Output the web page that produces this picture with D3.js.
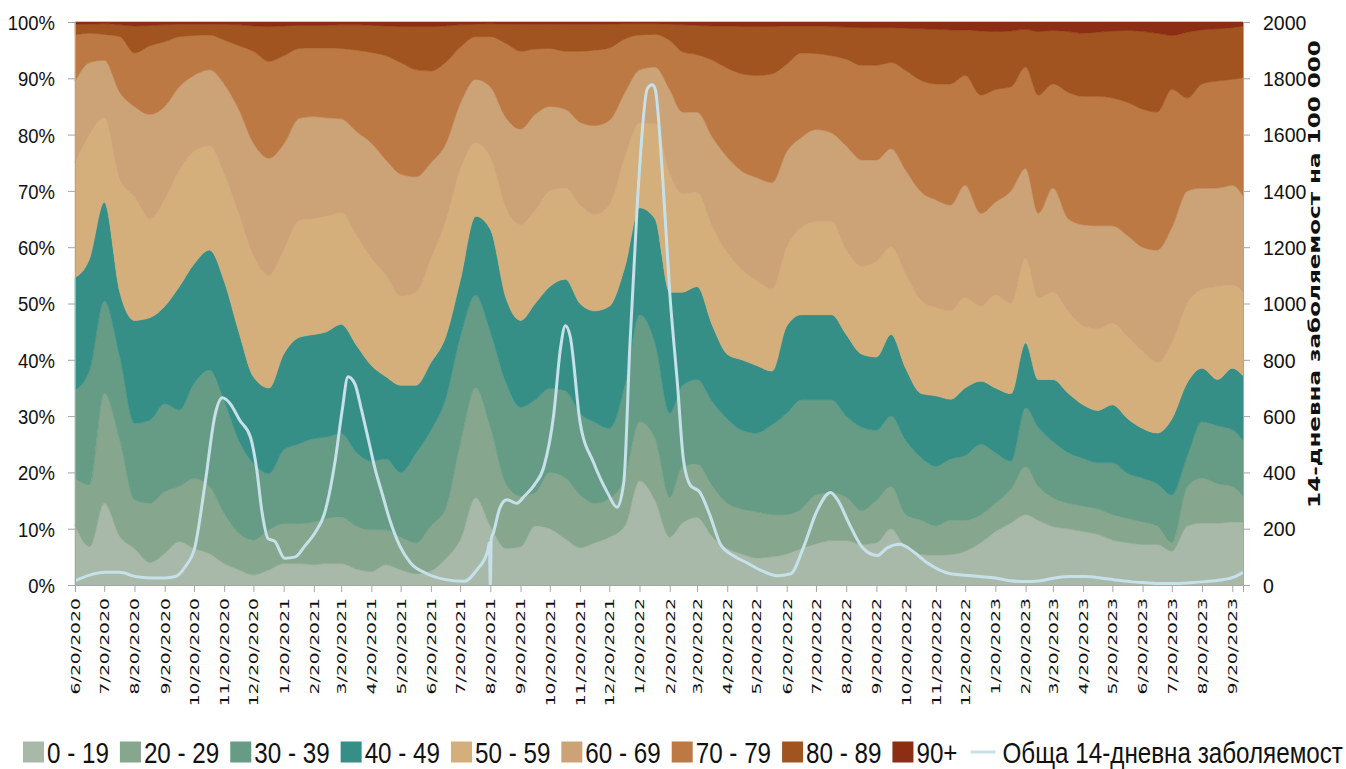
<!DOCTYPE html>
<html>
<head>
<meta charset="utf-8">
<script src="https://cdn.jsdelivr.net/npm/d3@7"></script>
<style>
  body { margin: 0; background: #ffffff; }
  svg { display: block; }
</style>
</head>
<body>
<div id="wrapper"></div>
<script>
// age groups, bottom to top of the stack
const ageGroups = ["0 - 19", "20 - 29", "30 - 39", "40 - 49", "50 - 59",
  "60 - 69", "70 - 79", "80 - 89", "90+"]
const lineLabel = "Обща 14-дневна заболяемост"
const rightTitle = "14-дневна заболяемост на 100 000"

// sample dates for the stacked shares
const sampleDates = [
  "2020-06-20","2020-07-05","2020-07-20","2020-08-05","2020-08-20","2020-09-05","2020-09-20","2020-10-05","2020-10-20","2020-11-05","2020-11-20","2020-12-05","2020-12-20",
  "2021-01-05","2021-01-20","2021-02-05","2021-02-20","2021-03-05","2021-03-20","2021-04-05","2021-04-20","2021-05-05","2021-05-20","2021-06-05","2021-06-20","2021-07-05","2021-07-20","2021-08-05","2021-08-20","2021-09-05","2021-09-20","2021-10-05","2021-10-20","2021-11-05","2021-11-20","2021-12-05","2021-12-20",
  "2022-01-05","2022-01-20","2022-02-05","2022-02-20","2022-03-05","2022-03-20","2022-04-05","2022-04-20","2022-05-05","2022-05-20","2022-06-05","2022-06-20","2022-07-05","2022-07-20","2022-08-05","2022-08-20","2022-09-05","2022-09-20","2022-10-05","2022-10-20","2022-11-05","2022-11-20","2022-12-05","2022-12-20",
  "2023-01-05","2023-01-20","2023-02-05","2023-02-20","2023-03-05","2023-03-20","2023-04-05","2023-04-20","2023-05-05","2023-05-20","2023-06-05","2023-06-20","2023-07-05","2023-07-20","2023-08-05","2023-08-20","2023-09-05","2023-09-20","2023-10-01"
]

// cumulative share (%) up to and including each age group
const upTo19 = [
  10.6, 6.8, 14.5, 8.6, 6.5, 4.0, 5.6, 7.7, 6.5, 5.6, 3.8, 2.7, 1.8,
  2.7, 3.8, 3.8, 3.6, 3.8, 3.8, 2.8, 2.4, 3.6, 2.7, 2.0, 2.5, 4.6, 8.0, 15.5, 10.5, 6.5, 6.8, 10.5, 10.0, 8.2, 6.6, 7.5, 8.5,
  10.5, 18.5, 15.0, 8.5, 11.0, 12.0, 8.5, 6.5, 5.5, 4.8, 5.0, 5.5, 6.5, 7.3, 7.9, 7.9, 7.2, 7.5, 10.0, 6.6, 5.4, 5.3, 5.4, 6.0,
  7.5, 9.5, 11.0, 12.5, 11.5, 10.4, 10.0, 9.5, 9.0, 8.0, 7.5, 7.2, 7.2, 6.0, 10.5, 11.0, 11.0, 11.2, 11.2]
const upTo29 = [
  18.9, 17.8, 34.0, 25.7, 15.1, 14.5, 16.6, 17.5, 18.9, 17.5, 12.7, 9.2, 8.0,
  9.8, 10.9, 10.9, 11.2, 11.8, 12.1, 10.4, 9.8, 9.8, 8.5, 7.5, 10.5, 13.5, 25.0, 35.0, 28.0, 18.0, 15.8, 16.4, 20.0, 19.0, 16.0, 14.5, 15.3,
  19.1, 29.0, 26.0, 15.5, 21.0, 21.5, 17.5, 14.5, 13.5, 13.0, 12.5, 12.5, 13.5, 16.0, 16.4, 15.6, 13.2, 15.0, 17.5, 12.5, 11.5, 10.5, 11.5, 11.5,
  12.5, 14.5, 17.0, 21.0, 17.5, 15.5, 14.5, 14.0, 13.5, 12.5, 11.8, 11.2, 10.5, 7.5, 17.5, 19.0, 18.0, 17.5, 15.8]
const upTo39 = [
  34.6, 38.2, 50.5, 40.5, 28.7, 29.3, 32.2, 31.1, 35.8, 38.2, 32.8, 25.7, 21.6,
  19.8, 24.0, 25.1, 26.0, 26.3, 26.9, 23.5, 22.0, 22.4, 20.0, 23.5, 27.5, 33.0, 44.0, 51.5, 45.0, 36.0, 31.6, 32.9, 34.9, 34.5, 30.5, 28.9, 27.8,
  35.5, 48.0, 43.0, 30.5, 35.5, 36.5, 32.5, 29.5, 27.5, 27.0, 28.5, 30.5, 32.9, 32.9, 32.9, 30.0, 28.0, 27.5, 30.0, 25.7, 22.6, 21.1, 22.4, 23.0,
  25.0, 23.5, 22.0, 31.5, 28.0, 25.5, 23.5, 22.5, 21.7, 21.7, 19.8, 19.0, 18.0, 16.0, 23.0, 29.0, 28.3, 27.6, 25.7]
const upTo49 = [
  54.6, 58.0, 68.0, 52.0, 47.0, 47.5, 49.5, 53.0, 57.0, 59.5, 54.0, 45.0, 37.0,
  35.0, 41.0, 44.0, 44.5, 45.0, 46.3, 42.5, 39.0, 37.0, 35.5, 35.5, 39.5, 44.0, 54.0, 65.5, 63.2, 51.0, 47.0, 50.0, 53.0, 54.3, 50.0, 48.7, 49.5,
  56.5, 67.0, 65.0, 52.0, 52.0, 53.0, 46.0, 41.0, 40.0, 39.0, 38.0, 46.0, 48.0, 48.0, 48.0, 44.5, 41.0, 40.5, 44.5, 38.5, 34.0, 33.6, 33.0, 35.0,
  36.2, 35.0, 34.0, 43.0, 36.5, 36.5, 34.0, 32.0, 31.0, 32.0, 29.5, 27.8, 27.0, 29.5, 36.0, 38.5, 36.5, 38.5, 37.2]
const upTo59 = [
  75.0, 80.0, 83.0, 72.0, 69.0, 65.0, 68.5, 73.7, 77.0, 78.0, 73.0, 66.0, 58.5,
  55.0, 59.5, 64.8, 65.1, 65.5, 66.1, 62.0, 58.0, 55.0, 51.3, 52.0, 58.0, 64.5, 73.7, 78.5, 76.0, 67.0, 64.0, 66.5, 70.0, 70.5, 67.5, 65.8, 67.5,
  76.0, 82.0, 82.0, 73.0, 69.5, 69.7, 63.5, 59.0, 56.0, 54.0, 52.6, 60.0, 63.5, 64.5, 64.5, 59.5, 56.6, 57.5, 60.0, 55.3, 50.5, 49.3, 48.7, 51.0,
  49.5, 51.5, 50.0, 58.0, 51.0, 52.0, 48.5, 46.0, 45.5, 46.5, 44.0, 41.5, 39.5, 43.0, 50.0, 52.5, 53.0, 53.3, 52.0]
const upTo69 = [
  89.5, 92.8, 93.2, 87.5, 85.0, 83.6, 85.0, 88.5, 90.5, 91.5, 89.0, 84.5, 78.5,
  75.8, 78.3, 82.9, 83.2, 83.0, 82.8, 80.5, 78.5, 75.5, 73.0, 72.5, 75.0, 78.3, 85.5, 89.8, 88.5, 83.0, 81.0, 83.6, 85.0, 84.5, 82.2, 81.6, 82.5,
  87.5, 91.5, 92.0, 88.0, 84.0, 84.0, 79.5, 76.0, 73.5, 72.4, 71.5, 77.0, 79.5, 80.9, 80.3, 78.0, 75.5, 75.5, 77.5, 73.7, 69.8, 68.4, 67.5, 71.0,
  66.0, 68.0, 70.0, 74.0, 66.0, 70.5, 65.0, 64.0, 63.8, 63.8, 62.0, 60.0, 59.5, 63.5, 70.0, 70.5, 70.5, 71.0, 69.1]
const upTo79 = [
  97.7, 98.0, 97.8, 97.4, 94.5, 95.8, 96.5, 97.4, 97.6, 97.7, 96.8, 95.8, 94.8,
  93.0, 94.0, 95.3, 95.4, 95.4, 95.3, 95.0, 94.6, 94.0, 92.8, 91.5, 91.3, 92.8, 95.5, 97.4, 97.4, 96.2, 94.8, 95.2, 95.3, 94.8, 94.8, 95.0, 95.4,
  97.0, 97.7, 97.8, 96.7, 94.7, 94.2, 93.2, 91.8, 90.8, 90.5, 90.8, 92.5, 94.5, 94.4, 94.0, 93.4, 92.3, 92.3, 92.8, 91.4, 89.6, 89.0, 89.0, 90.5,
  87.0, 88.0, 88.5, 92.0, 87.0, 89.0, 87.5, 86.8, 86.8, 86.5, 85.7, 84.5, 84.0, 88.0, 86.5, 89.0, 89.5, 89.8, 90.1]
const upTo89 = [
  99.6, 99.6, 99.7, 99.5, 99.3, 99.4, 99.5, 99.6, 99.6, 99.6, 99.6, 99.5, 99.3,
  99.2, 99.3, 99.4, 99.4, 99.4, 99.5, 99.5, 99.4, 99.3, 99.2, 99.2, 99.2, 99.3, 99.5, 99.6, 99.7, 99.6, 99.6, 99.6, 99.6, 99.6, 99.6, 99.6, 99.6,
  99.7, 99.7, 99.7, 99.6, 99.5, 99.4, 99.3, 99.3, 99.2, 99.2, 99.2, 99.3, 99.3, 99.3, 99.2, 99.1, 99.0, 99.0, 99.0, 98.9, 98.8, 98.7, 98.6, 98.6,
  98.4, 98.3, 98.4, 98.7, 98.3, 98.5, 98.3, 98.0, 98.2, 98.4, 98.5, 98.3, 98.0, 97.6, 98.2, 98.6, 98.8, 99.0, 99.3]

// total 14-day incidence per 100 000 (right axis)
const incidenceDates = [
  "2020-06-20","2020-07-05","2020-07-20","2020-08-05","2020-08-21","2020-09-05","2020-09-20","2020-10-01","2020-10-11","2020-10-21","2020-10-31","2020-11-11","2020-11-18","2020-11-26","2020-12-06","2020-12-17","2020-12-23","2020-12-29",
  "2021-01-04","2021-01-11","2021-01-21","2021-02-01","2021-02-11","2021-02-21","2021-03-03","2021-03-14","2021-03-21","2021-03-27","2021-04-03","2021-04-10","2021-04-17","2021-04-24","2021-05-01","2021-05-09","2021-05-19","2021-05-30","2021-06-16","2021-07-04","2021-07-24","2021-08-06","2021-08-17","2021-08-19","2021-08-20","2021-08-21","2021-08-23","2021-08-30","2021-09-06","2021-09-16","2021-09-24","2021-10-04","2021-10-14","2021-10-24","2021-10-31","2021-11-05","2021-11-10","2021-11-20","2021-12-04","2021-12-18","2021-12-28",
  "2022-01-04","2022-01-10","2022-01-18","2022-01-28","2022-02-02","2022-02-05","2022-02-13","2022-02-20","2022-02-28","2022-03-06","2022-03-13","2022-03-23","2022-04-02","2022-04-13","2022-04-26","2022-05-10","2022-05-24","2022-06-10","2022-06-24","2022-07-07","2022-07-21","2022-08-04","2022-08-11","2022-08-24","2022-09-06","2022-09-21","2022-10-01","2022-10-14","2022-10-28","2022-11-11","2022-11-24","2022-12-05","2022-12-19",
  "2023-01-04","2023-01-20","2023-02-04","2023-02-20","2023-03-07","2023-03-22","2023-04-07","2023-04-22","2023-05-08","2023-05-23","2023-06-07","2023-06-23","2023-07-08","2023-07-23","2023-08-08","2023-08-23","2023-09-08","2023-09-23","2023-10-01"
]
const incidence = [
  15, 35, 45, 45, 30, 25, 25, 30, 65, 135, 350, 610, 665, 645, 585, 525, 420, 255,
  165, 155, 95, 100, 140, 185, 255, 445, 620, 740, 715, 620, 515, 410, 325, 230, 140, 79, 40, 20, 13, 53, 118, 150, 0, 165, 184, 276, 303, 290, 316, 355, 421, 605, 842, 921, 882, 579, 434, 329, 276,
  368, 842, 1369, 1763, 1777, 1763, 1434, 1040, 711, 447, 355, 329, 250, 145, 105, 79, 53, 33, 40, 132, 263, 329, 303, 211, 132, 105, 132, 145, 118, 79, 53, 40, 35,
  30, 25, 15, 12, 15, 25, 30, 30, 25, 18, 12, 8, 5, 5, 8, 12, 18, 30, 45
]

const groupColors = ["#a9b9a9", "#86a78d", "#669c85", "#368f87", "#d4af7c",
  "#cca277", "#bc7944", "#a1541f", "#8c2e13"]
const lineColor = "#c6e1e9"
const axisColor = "#a6a6a6"
const labelFont = "'Liberation Sans', Arial, sans-serif"

function drawChart() {
  const parseDate = d3.utcParse("%Y-%m-%d")
  const cumulative = [upTo19, upTo29, upTo39, upTo49, upTo59, upTo69, upTo79, upTo89]

  // turn the cumulative readings into a share per age group
  const dataset = sampleDates.map((d, i) => {
    const row = { date: parseDate(d) }
    ageGroups.forEach((g, k) => {
      const top = k < cumulative.length ? cumulative[k][i] : 100
      const bottom = k === 0 ? 0 : cumulative[k - 1][i]
      row[g] = top - bottom
    })
    return row
  })
  const lineData = incidenceDates.map((d, i) => ({ date: parseDate(d), value: incidence[i] }))

  const dimensions = {
    width: 1346,
    height: 769,
    margin: { top: 22, right: 103, bottom: 184, left: 75 },
  }
  dimensions.boundedWidth = dimensions.width - dimensions.margin.left - dimensions.margin.right
  dimensions.boundedHeight = dimensions.height - dimensions.margin.top - dimensions.margin.bottom

  const wrapper = d3.select("#wrapper")
    .append("svg")
      .attr("width", dimensions.width)
      .attr("height", dimensions.height)

  const bounds = wrapper.append("g")
      .attr("transform", `translate(${dimensions.margin.left},${dimensions.margin.top})`)

  const xScale = d3.scaleUtc()
    .domain([parseDate("2020-06-20"), parseDate("2023-10-01")])
    .range([0, dimensions.boundedWidth])
  const yScale = d3.scaleLinear()
    .domain([0, 100])
    .range([dimensions.boundedHeight, 0])
  const yRight = d3.scaleLinear()
    .domain([0, 2000])
    .range([dimensions.boundedHeight, 0])

  // stacked shares
  const series = d3.stack().keys(ageGroups)(dataset)
  const areaGenerator = d3.area()
    .x(d => xScale(d.data.date))
    .y0(d => yScale(d[0]))
    .y1(d => yScale(d[1]))
    .curve(d3.curveMonotoneX)
  bounds.append("g")
    .selectAll("path")
    .data(series)
    .join("path")
      .attr("d", areaGenerator)
      .attr("fill", (d, i) => groupColors[i])
      .attr("stroke", (d, i) => groupColors[i])
      .attr("stroke-width", 0.6)

  // incidence line
  const lineGenerator = d3.line()
    .x(d => xScale(d.date))
    .y(d => yRight(d.value))
    .curve(d3.curveMonotoneX)
  bounds.append("path")
      .attr("d", lineGenerator(lineData))
      .attr("fill", "none")
      .attr("stroke", lineColor)
      .attr("stroke-width", 3)
      .attr("stroke-linejoin", "round")

  // left axis
  const yAxis = bounds.append("g")
    .call(d3.axisLeft(yScale)
      .tickValues(d3.range(0, 101, 10))
      .tickFormat(d => d + "%")
      .tickSize(7))
  yAxis.selectAll("text")
      .attr("x", 0)
      .attr("dy", null)
      .attr("dominant-baseline", "central")
      .attr("transform", "translate(-20,0) scale(0.88,1)")
      .style("font-family", labelFont)
      .style("font-size", "21px")
      .attr("fill", "#111")

  // right axis
  const yAxisRight = bounds.append("g")
      .attr("transform", `translate(${dimensions.boundedWidth},0)`)
    .call(d3.axisRight(yRight)
      .tickValues(d3.range(0, 2001, 200))
      .tickFormat(d3.format("d"))
      .tickSize(7))
  yAxisRight.selectAll("text")
      .attr("x", 0)
      .attr("dy", null)
      .attr("dominant-baseline", "central")
      .attr("transform", "translate(20,0) scale(0.93,1)")
      .style("font-family", labelFont)
      .style("font-size", "21px")
      .attr("fill", "#111")

  // bottom axis, a tick on the 20th of every month
  const tickDates = d3.utcMonth.range(parseDate("2020-06-01"), parseDate("2023-10-01"))
    .map(d => d3.utcDay.offset(d, 19))
  const xAxis = bounds.append("g")
      .attr("transform", `translate(0,${dimensions.boundedHeight})`)
    .call(d3.axisBottom(xScale)
      .tickValues(tickDates)
      .tickFormat(d3.utcFormat("%-m/%-d/%Y"))
      .tickSize(7))
  xAxis.selectAll("text")
      .attr("x", 0)
      .attr("y", 0)
      .attr("dy", null)
      .attr("text-anchor", "end")
      .attr("dominant-baseline", "central")
      .attr("transform", "translate(0,13) rotate(-90) scale(1.47,1)")
      .style("font-family", "'DejaVu Sans', sans-serif")
      .style("font-size", "12.8px")
      .attr("fill", "#111")

  for (const axis of [yAxis, yAxisRight, xAxis]) {
    axis.select(".domain").attr("stroke", axisColor)
    axis.selectAll(".tick line").attr("stroke", axisColor)
  }

  // right axis title, stretched to the reference length
  const title = wrapper.append("text")
      .text(rightTitle)
      .attr("text-anchor", "middle")
      .style("font-family", "'DejaVu Sans', sans-serif")
      .style("font-weight", "bold")
      .style("font-size", "16.5px")
      .attr("fill", "#111")
  const titleLength = title.node().getComputedTextLength()
  title.attr("transform", `translate(1320,274) rotate(-90) scale(${468 / titleLength},1)`)

  // legend
  const legendTextScale = 0.835
  const legend = wrapper.append("g")
      .attr("transform", "translate(23,752)")
  let cursor = 0
  const legendItems = ageGroups.map((g, i) => ({ label: g, color: groupColors[i], type: "box" }))
    .concat([{ label: lineLabel, color: lineColor, type: "line" }])
  legendItems.forEach(item => {
    const g = legend.append("g").attr("transform", `translate(${cursor},0)`)
    let textX
    if (item.type === "box") {
      g.append("rect")
          .attr("x", 0)
          .attr("y", -10.5)
          .attr("width", 21)
          .attr("height", 21)
          .attr("fill", item.color)
      textX = 24
    } else {
      g.append("line")
          .attr("x1", 2)
          .attr("x2", 27)
          .attr("y1", 0)
          .attr("y2", 0)
          .attr("stroke", item.color)
          .attr("stroke-width", 3)
      textX = 34
    }
    const t = g.append("text")
        .text(item.label)
        .attr("dominant-baseline", "central")
        .attr("transform", `translate(${textX},1) scale(${legendTextScale},1)`)
        .style("font-family", labelFont)
        .style("font-size", "29px")
        .attr("fill", "#111")
    cursor += textX + t.node().getComputedTextLength() * legendTextScale + 11
  })
}

drawChart()
</script>
</body>
</html>
